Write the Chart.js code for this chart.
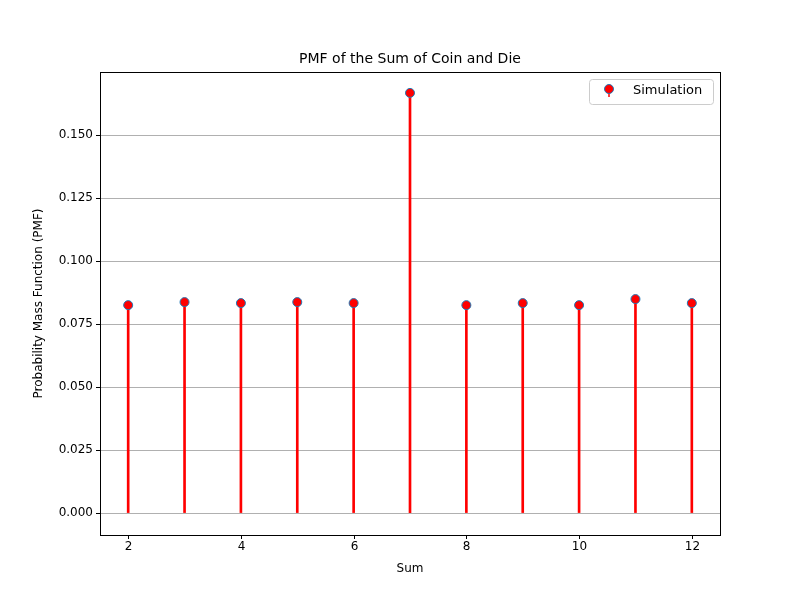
<!DOCTYPE html>
<html><head><meta charset="utf-8">
<script src="https://cdn.jsdelivr.net/npm/chart.js@4/dist/chart.umd.min.js"></script>
<style>body{margin:0;background:#fff}</style>
</head><body>
<canvas id="c" width="800" height="600"></canvas>
<script>
const sums=[2,3,4,5,6,7,8,9,10,11,12];
const pmf=[0.0825,0.0837,0.0833,0.0837,0.0833,0.1667,0.0825,0.0833,0.0825,0.0849,0.0833];
const xTicks=[2,4,6,8,10,12];
const yTicks=[0,0.025,0.05,0.075,0.1,0.125,0.15];

const font={family:"DejaVu Sans",size:12};
const overlay={
  id:"overlay",
  afterDraw(ch){
    const c=ch.ctx,a=ch.chartArea,xs=ch.scales.x;
    c.save();
    c.strokeStyle="#000";c.lineWidth=1;
    c.strokeRect(a.left+0.5,a.top+0.5,a.right-a.left,a.bottom-a.top);
    c.fillStyle="#000";c.font="14px DejaVu Sans";c.textAlign="center";c.textBaseline="middle";
    c.fillText("PMF of the Sum of Coin and Die",(a.left+a.right)/2,59);
    // x ticks and labels
    c.font="12px DejaVu Sans";
    xTicks.forEach(v=>{
      const px=Math.round(xs.getPixelForValue(v))+0.5;
      c.beginPath();c.moveTo(px,a.bottom);c.lineTo(px,a.bottom+4);c.stroke();
      c.fillText(String(v),px,a.bottom+12);
    });
    c.fillText("Sum",(a.left+a.right)/2,569);
    // legend
    const lx=589,ly=79,lw=124,lh=25;
    c.fillStyle="rgba(255,255,255,0.8)";c.strokeStyle="#ccc";
    c.beginPath();c.roundRect(lx+0.5,ly+0.5,lw,lh,3);c.fill();c.stroke();
    c.strokeStyle="red";c.lineWidth=1.5;
    c.beginPath();c.moveTo(609,91);c.lineTo(609,97);c.stroke();
    c.beginPath();c.arc(609,89,4.5,0,Math.PI*2);c.fillStyle="red";c.fill();
    c.strokeStyle="#1f77b4";c.lineWidth=1;c.stroke();
    c.fillStyle="#000";c.font="13px DejaVu Sans";c.textAlign="left";
    c.fillText("Simulation",633,91);
    c.restore();
  }
};

new Chart(document.getElementById("c"),{
  data:{datasets:[
    {type:"bar",data:sums.map((s,i)=>({x:s,y:pmf[i]})),backgroundColor:"red",barThickness:2,order:2},
    {type:"scatter",data:sums.map((s,i)=>({x:s,y:pmf[i]})),pointRadius:4.5,pointBackgroundColor:"red",
     pointBorderColor:"#1f77b4",pointBorderWidth:1,order:1}
  ]},
  options:{
    responsive:false,animation:false,
    layout:{padding:{top:72,right:80,left:28,bottom:0}},
    plugins:{legend:{display:false},tooltip:{enabled:false}},
    scales:{
      x:{type:"linear",min:1.5,max:12.5,offset:false,
        ticks:{display:false,stepSize:1,autoSkip:false},
        afterFit(s){s.height=65;},
        grid:{color:c=>(c.tick&&c.tick.value%2===0)?"#b0b0b0":"rgba(0,0,0,0)",drawTicks:false},border:{display:false}},
      y:{min:-0.0087,max:0.175,
        afterBuildTicks(s){s.ticks=yTicks.map(v=>({value:v}));},
        afterFit(s){s.width=72;},
        grid:{color:"#b0b0b0",tickLength:4,tickColor:"#000"},border:{display:false},
        ticks:{color:"#000",font,padding:3,callback:v=>v.toFixed(3)},
        title:{display:true,text:"Probability Mass Function (PMF)",color:"#000",font,padding:{bottom:2}}}
    }
  },
  plugins:[overlay]
});
</script>
</body></html>
